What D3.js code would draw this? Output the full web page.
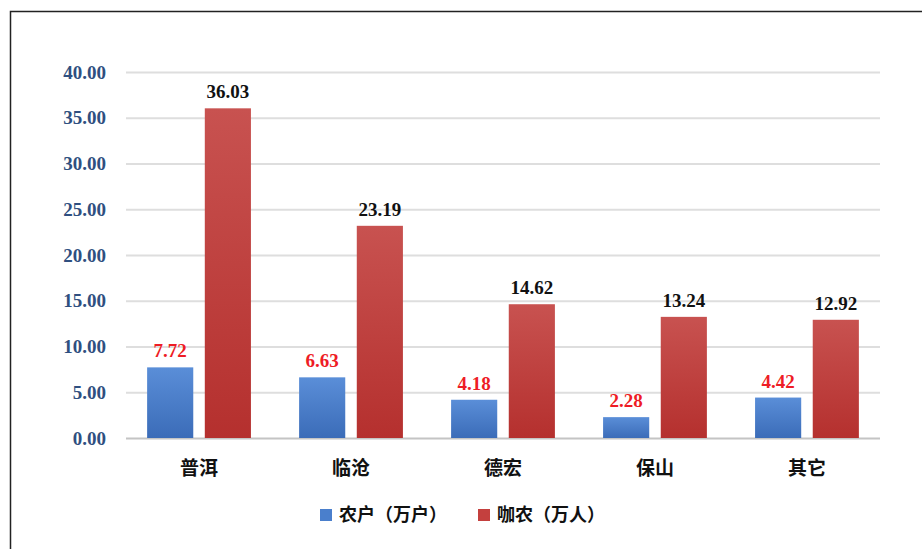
<!DOCTYPE html>
<html lang="zh">
<head>
<meta charset="UTF-8">
<title>咖农分布</title>
<style>
  body{margin:0;background:#fff}
  svg{display:block}
  .ytick{font-family:'Liberation Serif',serif;font-weight:bold;font-size:19px;fill:#2f4f80}
  .cat{font-family:'Noto Sans CJK SC',sans-serif;font-weight:bold;font-size:19px;fill:#111}
  .val{font-family:'Liberation Serif',serif;font-weight:bold;font-size:19px}
  .leg{font-family:'Noto Sans CJK SC',sans-serif;font-weight:bold;font-size:18px;fill:#111}
</style>
</head>
<body>
<div id="chart"></div>
<script src="https://d3js.org/d3.v7.min.js"></script>
<script>
// 数据
const regions=["普洱","临沧","德宏","保山","其它"];
const households=[7.72,6.63,4.18,2.28,4.42];   // 农户（万户）
const farmers=[36.03,23.19,14.62,13.24,12.92]; // 咖农（万人）
const seriesNames=["农户（万户）","咖农（万人）"];
const yTicks=[0,5,10,15,20,25,30,35,40];

const W=922,H=549;
const svg=d3.select("#chart").append("svg").attr("width",W).attr("height",H);

// 外框
svg.append("path").attr("d",`M10.5,${H} V11.5 H${W}`)
   .attr("fill","none").attr("stroke","#222").attr("stroke-width",1.5);

// 渐变
const defs=svg.append("defs");
const grads=[["gBlue","#5a8ed8","#3b6cb8"],["gRed","#c85250","#b5302e"]];
grads.forEach(([id,a,b])=>{
  const g=defs.append("linearGradient").attr("id",id).attr("x1",0).attr("y1",0).attr("x2",0).attr("y2",1);
  g.append("stop").attr("offset","0%").attr("stop-color",a);
  g.append("stop").attr("offset","100%").attr("stop-color",b);
});

const x0=d3.scaleBand().domain(regions).range([126,880]).paddingInner(0.317).paddingOuter(0.139);
const x1=d3.scaleBand().domain([0,1]).range([0,x0.bandwidth()]).paddingInner(0.2);
const y=d3.scaleLinear().domain([0,40]).range([438,72]);

// 网格线
svg.append("g").selectAll("line").data(yTicks).join("line")
   .attr("x1",126).attr("x2",880)
   .attr("y1",d=>y(d)+0.5).attr("y2",d=>y(d)+0.5)
   .attr("stroke",d=>d===0?"#c4c4c4":"#dedede").attr("stroke-width",2);

// Y轴标签
svg.append("g").selectAll("text").data(yTicks).join("text")
   .attr("class","ytick").attr("x",106).attr("y",d=>y(d)).attr("dy","0.35em")
   .attr("text-anchor","end").text(d=>d.toFixed(2));

// 柱
const series=[households,farmers];
const groups=svg.append("g").selectAll("g").data(regions).join("g")
   .attr("transform",d=>`translate(${x0(d)},0)`);

groups.selectAll("rect").data((d,i)=>series.map((s,k)=>({k,v:s[i]}))).join("rect")
   .attr("x",d=>x1(d.k)).attr("width",x1.bandwidth())
   .attr("y",d=>y(d.v)).attr("height",d=>y(0)-y(d.v))
   .attr("fill",d=>d.k===0?"url(#gBlue)":"url(#gRed)");

groups.selectAll("text.val").data((d,i)=>series.map((s,k)=>({k,v:s[i]}))).join("text")
   .attr("class","val").attr("text-anchor","middle")
   .attr("x",d=>x1(d.k)+x1.bandwidth()/2).attr("y",d=>y(d.v)-10)
   .attr("fill",d=>d.k===0?"#ee1c25":"#111").text(d=>d.v.toFixed(2));

// 类别标签
svg.append("g").selectAll("text").data(regions).join("text")
   .attr("class","cat").attr("text-anchor","middle")
   .attr("x",d=>x0(d)+x0.bandwidth()/2).attr("y",468).attr("dy","0.35em").text(d=>d);

// 图例
const legX=[320,478];
const leg=svg.append("g").selectAll("g").data(seriesNames).join("g")
   .attr("transform",(d,i)=>`translate(${legX[i]},515)`);
leg.append("rect").attr("x",0).attr("y",-6).attr("width",12).attr("height",12)
   .attr("fill",(d,i)=>i===0?"#4a7fcc":"#c4403e");
leg.append("text").attr("class","leg").attr("x",19).attr("dy","0.35em").text(d=>d);
</script>
</body>
</html>
